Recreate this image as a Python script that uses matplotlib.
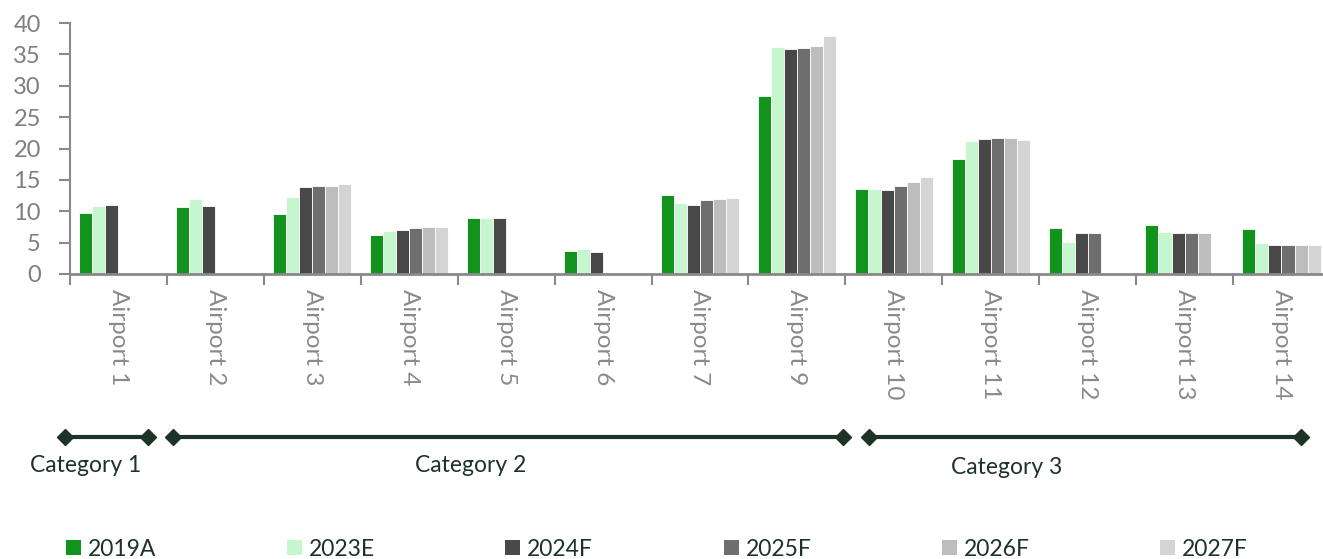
#!/usr/bin/env python3
"""
Passenger chart per airport: 2019 actual vs estimates / forecasts.
"""

import numpy as np
import matplotlib.pyplot as plt
from matplotlib.patches import Patch
from matplotlib.transforms import blended_transform_factory

plt.rcParams['font.family'] = ['Lato', 'DejaVu Sans']

# --- Data ---
airports = ['Airport 1', 'Airport 2', 'Airport 3', 'Airport 4', 'Airport 5',
            'Airport 6', 'Airport 7', 'Airport 9', 'Airport 10', 'Airport 11',
            'Airport 12', 'Airport 13', 'Airport 14']
series = ['2019A', '2023E', '2024F', '2025F', '2026F', '2027F']

nan = np.nan
v2019A = [9.8, 10.7, 9.5, 6.2, 9.0, 3.7, 12.6, 28.4, 13.5, 18.4, 7.3, 7.8, 7.2]
v2023E = [10.9, 11.9, 12.2, 6.85, 9.0, 4.0, 11.3, 36.2, 13.5, 21.2, 5.1, 6.75, 5.0]
v2024F = [11.0, 10.9, 13.8, 7.0, 9.0, 3.45, 11.05, 35.8, 13.4, 21.45, 6.5, 6.5, 4.6]
v2025F = [nan, nan, 14.0, 7.3, nan, nan, 11.8, 36.0, 14.0, 21.7, 6.5, 6.5, 4.6]
v2026F = [nan, nan, 14.1, 7.45, nan, nan, 11.9, 36.4, 14.7, 21.7, nan, 6.5, 4.6]
v2027F = [nan, nan, 14.3, 7.45, nan, nan, 12.1, 37.9, 15.4, 21.35, nan, nan, 4.6]
values = [v2019A, v2023E, v2024F, v2025F, v2026F, v2027F]

colors = ['#11931e', '#c6f6cd', '#484848', '#6e6e6e', '#bdbdbd', '#d4d4d4']

categories = ['Category 1', 'Category 2', 'Category 3']

# --- Layout for the category brackets (in category units) ---
bracket_spans = [(-0.55, 0.3), (0.56, 7.48), (7.74, 12.2)]
label_x = [-0.335, 3.63, 9.16]
label_y = [0.168, 0.168, 0.164]

GREY = '#898989'
TICK_GREY = '#7f7f7f'
DARK = '#1e3327'

fig = plt.figure(figsize=(13.23, 5.59), dpi=100)
ax = fig.add_axes([70 / 1323, 285 / 559, 1260 / 1323, 251 / 559])

x = np.arange(len(airports))
bar_w = 0.1345
for i, (name, vals) in enumerate(zip(series, values)):
    ax.bar(x - 0.404 + i * bar_w, vals, width=bar_w, align='edge',
           color=colors[i], edgecolor='white', linewidth=0.6, label=name)

ax.set_xlim(-0.5, len(airports) - 0.5)
ax.set_ylim(0, 40)
ax.set_yticks(np.arange(0, 41, 5))

# category boundaries as major ticks, names as minor ticks
ax.set_xticks(np.arange(-0.5, len(airports), 1.0))
ax.set_xticklabels([])
ax.set_xticks(x, minor=True)
ax.set_xticklabels(airports, minor=True, rotation=-90, va='top', ha='center')

ax.tick_params(axis='x', which='major', length=8, width=1.5, color=GREY, direction='out')
ax.tick_params(axis='x', which='minor', length=0, pad=11, labelsize=17.5, labelcolor='#8a8a8a')
ax.tick_params(axis='y', length=8, width=1.5, color=GREY, pad=13, labelsize=17, labelcolor=TICK_GREY)

for side in ['top', 'right']:
    ax.spines[side].set_visible(False)
ax.spines['left'].set_color(GREY)
ax.spines['left'].set_linewidth(1.5)
ax.spines['bottom'].set_color(GREY)
ax.spines['bottom'].set_linewidth(2)

# category brackets below the airport names
trans = blended_transform_factory(ax.transData, fig.transFigure)
for (x0, x1), name, lx, ly in zip(bracket_spans, categories, label_x, label_y):
    ax.plot([x0, x1], [1 - 437 / 559] * 2, transform=trans, color=DARK,
            linewidth=3, marker='D', markersize=8, clip_on=False)
    fig.text(0, ly, name, transform=trans, fontsize=16.5, color=DARK,
             ha='center', va='center')
    fig.texts[-1].set_x(lx)

# legend at the bottom
handles = [Patch(facecolor=c, edgecolor='none') for c in colors]
fig.legend(handles, series, loc='center left', bbox_to_anchor=(45 / 1323, 1 - 549 / 559),
           ncol=6, frameon=False, fontsize=16.5, handlelength=0.655, handleheight=0.655,
           handletextpad=0.3, columnspacing=5.7, labelcolor=DARK)

plt.savefig('out.png', dpi=100)
plt.close()
